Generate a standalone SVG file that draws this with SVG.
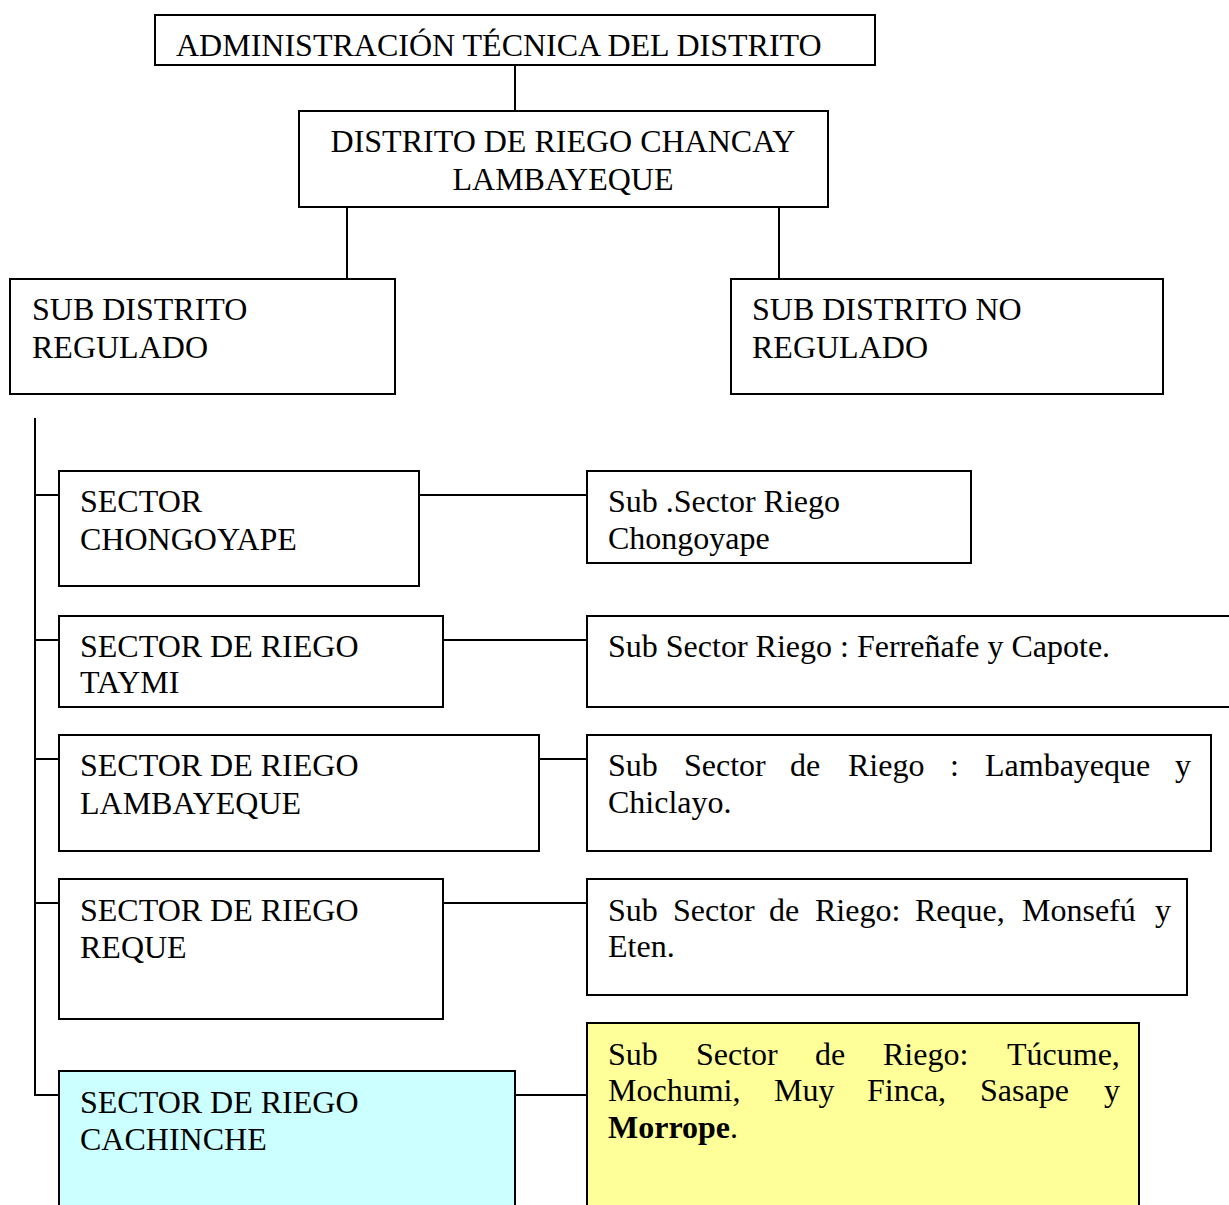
<svg xmlns="http://www.w3.org/2000/svg" width="1229" height="1205" viewBox="0 0 1229 1205">
<style>
.box{fill:#fff;stroke:#000;stroke-width:2}
.cyan{fill:#ccffff}
.yellow{fill:#ffff99}
.t{font-family:"Liberation Serif","Times New Roman",serif;font-size:32px;fill:#000}
.b{font-weight:bold}
.c{fill:none;stroke:#000;stroke-width:2}
</style>
<rect width="1229" height="1205" fill="#fff"/>
<g id="connectors">
<path class="c" d="M515,65V111M347,207V279M779,207V279"/>
<path class="c" d="M35,418V1095H59"/>
<path class="c" d="M35,495H59M419,495H587"/>
<path class="c" d="M35,640H59M443,640H587"/>
<path class="c" d="M35,759H59M539,759H587"/>
<path class="c" d="M35,903H59M443,903H587"/>
<path class="c" d="M515,1095H587"/>
</g>
<g id="n-ata">
<rect class="box" x="155" y="15" width="720" height="50"/>
<text class="t" x="176" y="56">ADMINISTRACIÓN TÉCNICA DEL DISTRITO</text>
</g>
<g id="n-distrito">
<rect class="box" x="299" y="111" width="529" height="96"/>
<text class="t" x="563" y="152" text-anchor="middle">DISTRITO DE RIEGO CHANCAY</text>
<text class="t" x="563" y="190" text-anchor="middle">LAMBAYEQUE</text>
</g>
<g id="n-regulado">
<rect class="box" x="10" y="279" width="385" height="115"/>
<text class="t" x="32" y="320">SUB DISTRITO</text>
<text class="t" x="32" y="358">REGULADO</text>
</g>
<g id="n-noregulado">
<rect class="box" x="731" y="279" width="432" height="115"/>
<text class="t" x="752" y="320">SUB DISTRITO NO</text>
<text class="t" x="752" y="358">REGULADO</text>
</g>
<g id="n-chongoyape">
<rect class="box" x="59" y="471" width="360" height="115"/>
<text class="t" x="80" y="512">SECTOR</text>
<text class="t" x="80" y="550">CHONGOYAPE</text>
</g>
<g id="n-sub-chongoyape">
<rect class="box" x="587" y="471" width="384" height="92"/>
<text class="t" x="608" y="512">Sub .Sector Riego</text>
<text class="t" x="608" y="549">Chongoyape</text>
</g>
<g id="n-taymi">
<rect class="box" x="59" y="616" width="384" height="91"/>
<text class="t" x="80" y="657">SECTOR DE RIEGO</text>
<text class="t" x="80" y="693">TAYMI</text>
</g>
<g id="n-sub-taymi">
<rect class="box" x="587" y="616" width="660" height="91"/>
<text class="t" x="608" y="657">Sub Sector Riego : Ferreñafe y Capote.</text>
</g>
<g id="n-lambayeque">
<rect class="box" x="59" y="735" width="480" height="116"/>
<text class="t" x="80" y="776">SECTOR DE RIEGO</text>
<text class="t" x="80" y="814">LAMBAYEQUE</text>
</g>
<g id="n-sub-lambayeque">
<rect class="box" x="587" y="735" width="624" height="116"/>
<text class="t" y="776"><tspan x="608">Sub</tspan><tspan x="684">Sector</tspan><tspan x="790">de</tspan><tspan x="848">Riego</tspan><tspan x="950">:</tspan><tspan x="985">Lambayeque</tspan><tspan x="1175">y</tspan></text>
<text class="t" x="608" y="813">Chiclayo.</text>
</g>
<g id="n-reque">
<rect class="box" x="59" y="879" width="384" height="140"/>
<text class="t" x="80" y="921">SECTOR DE RIEGO</text>
<text class="t" x="80" y="958">REQUE</text>
</g>
<g id="n-sub-reque">
<rect class="box" x="587" y="879" width="600" height="116"/>
<text class="t" y="921"><tspan x="608">Sub</tspan><tspan x="673">Sector</tspan><tspan x="769">de</tspan><tspan x="815">Riego:</tspan><tspan x="915">Reque,</tspan><tspan x="1022">Monsefú</tspan><tspan x="1155">y</tspan></text>
<text class="t" x="608" y="957">Eten.</text>
</g>
<g id="n-cachinche">
<rect class="box cyan" x="59" y="1071" width="456" height="150"/>
<text class="t" x="80" y="1113">SECTOR DE RIEGO</text>
<text class="t" x="80" y="1150">CACHINCHE</text>
</g>
<g id="n-sub-cachinche">
<rect class="box yellow" x="587" y="1023" width="552" height="200"/>
<text class="t" y="1065"><tspan x="608">Sub</tspan><tspan x="696">Sector</tspan><tspan x="815">de</tspan><tspan x="883">Riego:</tspan><tspan x="1007">Túcume,</tspan></text>
<text class="t" y="1101"><tspan x="608">Mochumi,</tspan><tspan x="774">Muy</tspan><tspan x="867">Finca,</tspan><tspan x="980">Sasape</tspan><tspan x="1104">y</tspan></text>
<text class="t" x="608" y="1138"><tspan class="b">Morrope</tspan>.</text>
</g>
</svg>
